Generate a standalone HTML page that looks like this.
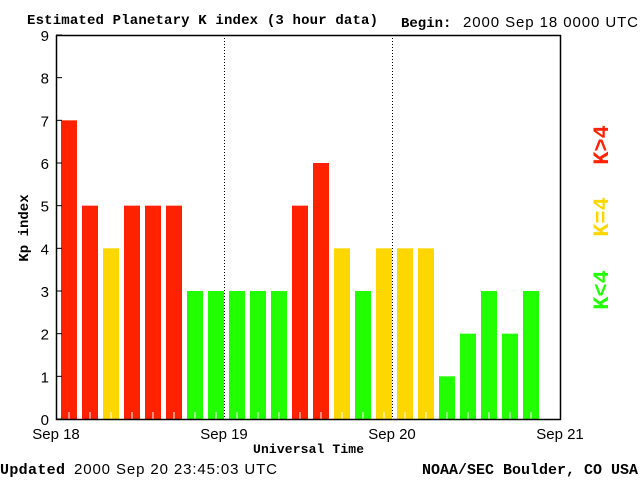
<!DOCTYPE html>
<html><head><meta charset="utf-8"><style>
body{margin:0;background:#fff;}
svg{display:block;}
.t{font-family:"Liberation Sans",sans-serif;font-size:15px;fill:#000;}
.s{font-family:"Liberation Mono",monospace;font-weight:bold;font-size:14px;fill:#000;}
</style></head><body>
<svg id="chart" width="640" height="480" xmlns="http://www.w3.org/2000/svg">
<text class="s" x="27" y="24" textLength="351">Estimated Planetary K index (3 hour data)</text>
<text class="s" x="401" y="27">Begin:</text>
<text class="t" x="463" y="27" textLength="175">2000 Sep 18 0000 UTC</text>
<text class="s" x="0" y="474" style="font-size:15px" textLength="65">Updated</text>
<text class="t" x="74" y="474" textLength="203">2000 Sep 20 23:45:03 UTC</text>
<text class="s" x="422" y="474" style="font-size:15px" textLength="216">NOAA/SEC Boulder, CO USA</text>
<text class="s" x="253" y="453" style="font-size:13px" textLength="111">Universal Time</text>
<text class="s" transform="translate(28,228) rotate(-90)" text-anchor="middle">Kp index</text>
<text class="s" transform="translate(608,145) rotate(-90)" text-anchor="middle" style="font-size:22px;fill:#ff2200">K&gt;4</text>
<text class="s" transform="translate(608,217) rotate(-90)" text-anchor="middle" style="font-size:22px;fill:#ffd700">K=4</text>
<text class="s" transform="translate(608,290) rotate(-90)" text-anchor="middle" style="font-size:22px;fill:#22ff00">K&lt;4</text>
<g id="plot"></g>
</svg>
<script>
const kpValues=[7,5,4,5,5,5,3,3, 3,3,3,5,6,4,3,4, 4,4,1,2,3,2,3];
const yTicks=[0,1,2,3,4,5,6,7,8,9];
const dayLabels=["Sep 18","Sep 19","Sep 20","Sep 21"];
const NS="http://www.w3.org/2000/svg";
const L=56,R=560,T=35,B=419;
const y=v=>B-(v/9)*(B-T);
const slot=(R-L)/24;
const x=i=>L+i*slot;
const g=document.getElementById('plot');
function mk(tag,a){const e=document.createElementNS(NS,tag);for(const k in a)e.setAttribute(k,a[k]);g.appendChild(e);return e;}
function color(v){return v>4?'#ff2200':(v==4?'#ffd700':'#22ff00');}
kpValues.forEach((v,i)=>{
 const r=mk('rect',{x:x(i)+5,y:y(v),width:16,height:B-y(v),fill:color(v)});
 
 
 const tk=mk('line',{x1:x(i)+13,x2:x(i)+13,y1:B,y2:B-7,stroke:'#fff','stroke-width':1});
 
 
});
for(let d=1;d<3;d++){
 const l=mk('line',{x1:L+d*168+0.5,x2:L+d*168+0.5,y1:T,y2:B,stroke:'#000','stroke-dasharray':'1,2'});
 
 
}
const ax=mk('path',{d:`M${L+0.5},${T} V${B+0.5} H${R+0.5} V${T+0.5} H${L}`,fill:'none',stroke:'#000','stroke-width':1.5});


yTicks.forEach(v=>{
 const tl=mk('line',{x1:L,x2:L+6,y1:y(v),y2:y(v),stroke:'#000'});
 
 
 const t=mk('text',{x:49,y:y(v)+6,'text-anchor':'end',class:'t'});
 t.textContent=v;
 
 
});
dayLabels.forEach((s,d)=>{
 const t=mk('text',{x:L+d*168,y:439,'text-anchor':'middle',class:'t'});
 t.textContent=s;
 
 
});
</script>
</body></html>
